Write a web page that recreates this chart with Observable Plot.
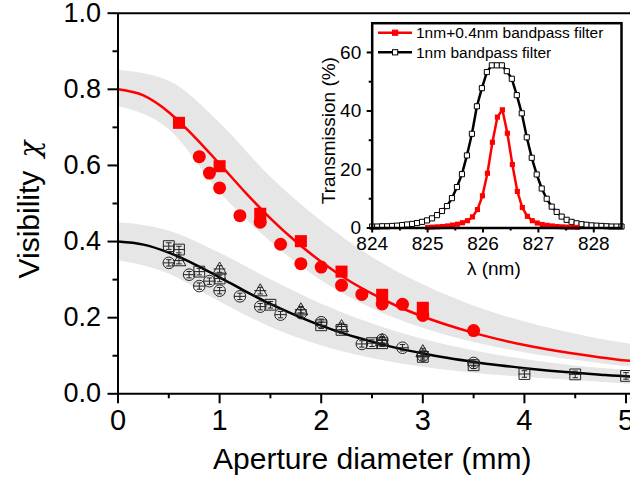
<!DOCTYPE html>
<html><head><meta charset="utf-8">
<script src="https://cdn.jsdelivr.net/npm/d3@7"></script>
<script src="https://cdn.jsdelivr.net/npm/@observablehq/plot@0.6"></script>
<style>
html,body{margin:0;padding:0;overflow:hidden;background:#fff}
#wrap{position:relative;width:630px;height:477px;font-family:"Liberation Sans",Arial,sans-serif}
#main{position:absolute;left:0;top:0}
#inset{position:absolute;left:300px;top:0}
#legend{position:absolute;left:0;top:0}
</style></head><body>
<div id="wrap"><div id="main"></div><div id="inset"></div><svg id="legend" width="630" height="70"></svg></div>
<script>
// ---------- main chart data ----------
const curveX   = [0,0.25,0.5,0.75,1,1.25,1.5,1.75,2,2.25,2.5,2.75,3,3.25,3.5,3.75,4,4.25,4.5,4.75,5,5.05];
const redFit   = [0.800,0.784,0.740,0.676,0.604,0.530,0.461,0.400,0.347,0.301,0.263,0.230,0.203,0.180,0.160,0.143,0.128,0.116,0.105,0.0955,0.0873,0.0865];
const blackFit = [0.400,0.392,0.371,0.341,0.306,0.270,0.236,0.206,0.179,0.156,0.137,0.120,0.106,0.0939,0.0837,0.0749,0.0674,0.0608,0.0552,0.0502,0.0459,0.0453];

const bandX       = [0,0.5,1,1.5,2,2.5,3,3.5,4,4.5,5,5.05];
const redBandHi   = [0.85,0.822,0.712,0.570,0.454,0.359,0.287,0.231,0.189,0.157,0.132,0.130];
const redBandLo   = [0.755,0.695,0.530,0.400,0.298,0.224,0.172,0.135,0.108,0.088,0.072,0.071];
const blackBandHi = [0.45,0.428,0.370,0.300,0.236,0.184,0.143,0.113,0.090,0.073,0.062,0.061];
const blackBandLo = [0.35,0.315,0.242,0.175,0.126,0.0926,0.070,0.0543,0.0431,0.035,0.026,0.025];

const redSqX = [0.6,1.0,1.4,1.8,2.2,2.6,3.0];
const redSqY = [0.712,0.598,0.473,0.401,0.321,0.260,0.226];
const redCiX = [0.8,0.9,1.0,1.2,1.4,1.6,1.8,2.0,2.2,2.4,2.6,2.8,3.0,3.5];
const redCiY = [0.623,0.580,0.541,0.468,0.451,0.393,0.342,0.333,0.285,0.261,0.236,0.235,0.206,0.166];

const blkSqX = [0.5,0.6,0.8,1.0,1.5,2.0,2.2,2.5,2.6,3.0,3.5,4.0,4.5,5.0];
const blkSqY = [0.388,0.379,0.321,0.303,0.234,0.180,0.168,0.133,0.133,0.097,0.075,0.052,0.051,0.047];
const blkCiX = [0.5,0.7,0.8,0.9,1.0,1.2,1.4,1.6,1.8,2.0,2.4,2.6,2.8,3.0,3.5];
const blkCiY = [0.344,0.313,0.283,0.296,0.271,0.256,0.229,0.208,0.212,0.188,0.131,0.142,0.121,0.100,0.081];
const blkTrX = [0.6,1.0,1.4,1.8,2.2,2.6,3.0];
const blkTrY = [0.350,0.328,0.271,0.221,0.177,0.140,0.111];

const xMajor = [0,1,2,3,4,5];
const xMinor = [0.5,1.5,2.5,3.5,4.5];
const yMajor = [0,0.2,0.4,0.6,0.8,1.0];
const yMinor = [0.1,0.3,0.5,0.7,0.9];

// ---------- inset data ----------
const blkLam = [824.00,824.09,824.18,824.27,824.36,824.45,824.54,824.63,824.72,824.81,824.90,824.99,825.08,825.17,825.26,825.35,825.44,825.53,825.62,825.71,825.80,825.89,825.98,826.07,826.16,826.25,826.34,826.43,826.52,826.61,826.70,826.79,826.88,826.97,827.06,827.15,827.24,827.33,827.42,827.51,827.60,827.69,827.78,827.87,827.96,828.05,828.14,828.23,828.32,828.41,828.50];
const blkT   = [0.5,0.5,0.6,0.6,0.7,0.8,1.0,1.2,1.4,1.7,2.1,2.6,3.3,4.4,5.8,7.5,10.2,14.0,18.4,24.8,32.2,41.6,47.8,53.3,55.6,55.6,55.6,53.6,51.0,45.4,39.2,31.0,24.0,18.3,13.5,10.0,7.3,5.5,3.9,2.8,2.1,1.6,1.3,1.1,0.9,0.8,0.7,0.6,0.5,0.5,0.5];
const redLam = [825.00,825.09,825.18,825.27,825.36,825.45,825.54,825.63,825.72,825.81,825.90,825.99,826.08,826.17,826.26,826.35,826.44,826.53,826.62,826.71,826.80,826.89,826.98,827.07,827.16,827.25,827.34,827.43,827.52,827.61,827.70];
const redT   = [0.2,0.3,0.4,0.5,0.7,1.0,1.3,1.8,2.5,3.8,6.3,11.0,18.7,29.3,37.9,40.4,32.4,21.7,12.5,7.0,4.0,2.5,1.7,1.2,0.9,0.7,0.5,0.4,0.3,0.3,0.2];
const insetXMajor = [824,825,826,827,828];
const insetXMinor = [824.5,825.5,826.5,827.5];
const insetYMajor = [0,20,40,60];
const insetYMinor = [10,30,50];
const legendLabels = ["1nm+0.4nm bandpass filter","1nm bandpass filter"];

// ---------- helpers ----------
const zip = (xs, ys) => xs.map((x,i)=>({x, y: ys[i]}));
const band = (lo, hi) => bandX.map((x,i)=>({x, lo: lo[i], hi: hi[i]}));
const FONT = "Liberation Sans, Arial, sans-serif";

// open markers crossed by their error bars
function barred(shape){
  return {draw(ctx, size){
    const r = Math.sqrt(size/Math.PI);
    if (shape==="circle"){ ctx.moveTo(r,0); ctx.arc(0,0,r,0,2*Math.PI); }
    else if (shape==="square"){ const s=r*0.9; ctx.moveTo(-s,-s); ctx.lineTo(s,-s); ctx.lineTo(s,s); ctx.lineTo(-s,s); ctx.closePath(); }
    else { const h=r*1.15; ctx.moveTo(0,-h); ctx.lineTo(h,h*0.75); ctx.lineTo(-h,h*0.75); ctx.closePath(); }
    ctx.moveTo(-r,0); ctx.lineTo(r,0);
    ctx.moveTo(0,-r*0.55); ctx.lineTo(0,r*0.55);
    ctx.moveTo(-r*0.45,-r*0.55); ctx.lineTo(r*0.45,-r*0.55);
    ctx.moveTo(-r*0.45,r*0.55); ctx.lineTo(r*0.45,r*0.55);
  }};
}

const main = Plot.plot({
  width: 630, height: 477,
  marginLeft: 117.5, marginRight: 0, marginTop: 12.7, marginBottom: 83.7,
  style: {fontFamily: FONT, background: "transparent", overflow: "visible"},
  x: {domain: [0, 5.044]},
  y: {domain: [0, 1]},
  marks: [
    Plot.areaY(band(redBandLo, redBandHi), {x:"x", y1:"lo", y2:"hi", fill:"#e6e6e6", curve:"monotone-x"}),
    Plot.areaY(band(blackBandLo, blackBandHi), {x:"x", y1:"lo", y2:"hi", fill:"#e6e6e6", curve:"monotone-x"}),
    Plot.line(zip(curveX, blackFit), {x:"x", y:"y", stroke:"black", strokeWidth:2.5, curve:"monotone-x"}),
    Plot.line(zip(curveX, redFit), {x:"x", y:"y", stroke:"#ff0000", strokeWidth:2.5, curve:"monotone-x"}),
    Plot.dot(zip(blkSqX, blkSqY), {x:"x", y:"y", symbol: barred("square"), r:6, stroke:"#222", strokeWidth:1, fill:"none"}),
    Plot.dot(zip(blkCiX, blkCiY), {x:"x", y:"y", symbol: barred("circle"), r:5.8, stroke:"#222", strokeWidth:1, fill:"none"}),
    Plot.dot(zip(blkTrX, blkTrY), {x:"x", y:"y", symbol: barred("triangle"), r:6, stroke:"#222", strokeWidth:1, fill:"none"}),
    Plot.dot(zip(redCiX, redCiY), {x:"x", y:"y", symbol:"circle", r:6.5, fill:"#ff0000"}),
    Plot.dot(zip(redSqX, redSqY), {x:"x", y:"y", symbol:"square", r:6.8, fill:"#ff0000"}),
    Plot.ruleY([0], {stroke:"black", strokeWidth:2}),
    Plot.ruleY([1], {stroke:"black", strokeWidth:2}),
    Plot.ruleX([0], {stroke:"black", strokeWidth:2}),
    Plot.axisX(xMajor, {tickSize:10, tickPadding:6, strokeWidth:2, fontSize:29, tickFormat: d3.format("d"), label:null}),
    Plot.axisX(xMinor, {tickSize:5, strokeWidth:2, tickFormat: () => "", label:null}),
    Plot.axisY(yMajor, {tickSize:10, tickPadding:7, strokeWidth:2, fontSize:27, tickFormat: d3.format(".1f"), label:null}),
    Plot.axisY(yMinor, {tickSize:5, strokeWidth:2, tickFormat: () => "", label:null}),
    Plot.text(["Aperture diameter (mm)"], {frameAnchor:"bottom", lineAnchor:"bottom", textAnchor:"middle", dy:74.7, dx:-2, fontSize:30, fill:"black"}),
    Plot.text(["Visibility"], {frameAnchor:"left", lineAnchor:"bottom", textAnchor:"start", rotate:-90, dx:-79, dy:75, fontSize:30, fill:"black"}),
    Plot.text(["\u03c7"], {frameAnchor:"left", lineAnchor:"bottom", textAnchor:"end", rotate:-90, dx:-79, dy:-63, fontSize:28, fontFamily:"DejaVu Serif", fontStyle:"italic", fill:"black"})
  ]
});
document.getElementById("main").appendChild(main);

const inset = Plot.plot({
  width: 330, height: 300,
  marginLeft: 71.7, marginRight: 9, marginTop: 22.7, marginBottom: 72.5,
  style: {fontFamily: FONT, background: "transparent", overflow: "visible"},
  x: {domain: [824, 828.5]},
  y: {domain: [0, 70]},
  marks: [
    Plot.frame({fill:"white", stroke:"none"}),
    Plot.line(zip(blkLam, blkT), {x:"x", y:"y", stroke:"black", strokeWidth:2.5}),
    Plot.dot(zip(blkLam, blkT), {x:"x", y:"y", symbol:"square", r:2.9, fill:"white", stroke:"black", strokeWidth:1}),
    Plot.line(zip(redLam, redT), {x:"x", y:"y", stroke:"#ff0000", strokeWidth:2.5}),
    Plot.dot(zip(redLam, redT), {x:"x", y:"y", symbol:"square", r:2.9, fill:"#ff0000"}),
    Plot.frame({stroke:"black", strokeWidth:2.5}),
    Plot.axisX(insetXMajor, {tickSize:5, tickPadding:3, strokeWidth:2, fontSize:19, tickFormat: d3.format("d"), label:null}),
    Plot.axisX(insetXMinor, {tickSize:3, strokeWidth:2, tickFormat: () => "", label:null}),
    Plot.axisY(insetYMajor, {tickSize:5, tickPadding:6, strokeWidth:2, fontSize:19, tickFormat: d3.format("d"), label:null}),
    Plot.axisY(insetYMinor, {tickSize:3, strokeWidth:2, tickFormat: () => "", label:null}),
    Plot.text(["\u03bb (nm)"], {frameAnchor:"bottom", lineAnchor:"bottom", textAnchor:"middle", dy:46.5, dx:-3, fontSize:19, fill:"black"}),
    Plot.text(["Transmission (%)"], {frameAnchor:"left", lineAnchor:"bottom", textAnchor:"middle", rotate:-90, dx:-37.7, dy:5, fontSize:19, fill:"black"})
  ]
});
document.getElementById("inset").appendChild(inset);

// ---------- legend of the inset ----------
const lg = d3.select("#legend");
const legendColors = ["#ff0000","black"];
const legendFill = ["#ff0000","white"];
legendLabels.forEach((lab,i)=>{
  const y = 32.7 + i*19.6;
  lg.append("line").attr("x1",378).attr("x2",412).attr("y1",y).attr("y2",y).attr("stroke",legendColors[i]).attr("stroke-width",2.5);
  lg.append("rect").attr("x",392.5).attr("y",y-2.6).attr("width",5.2).attr("height",5.2).attr("fill",legendFill[i]).attr("stroke",legendColors[i]).attr("stroke-width",1);
  lg.append("text").attr("x",416).attr("y",y).attr("dy","0.35em").attr("font-size",15.5).attr("font-family",FONT).text(lab);
});
</script></body></html>
